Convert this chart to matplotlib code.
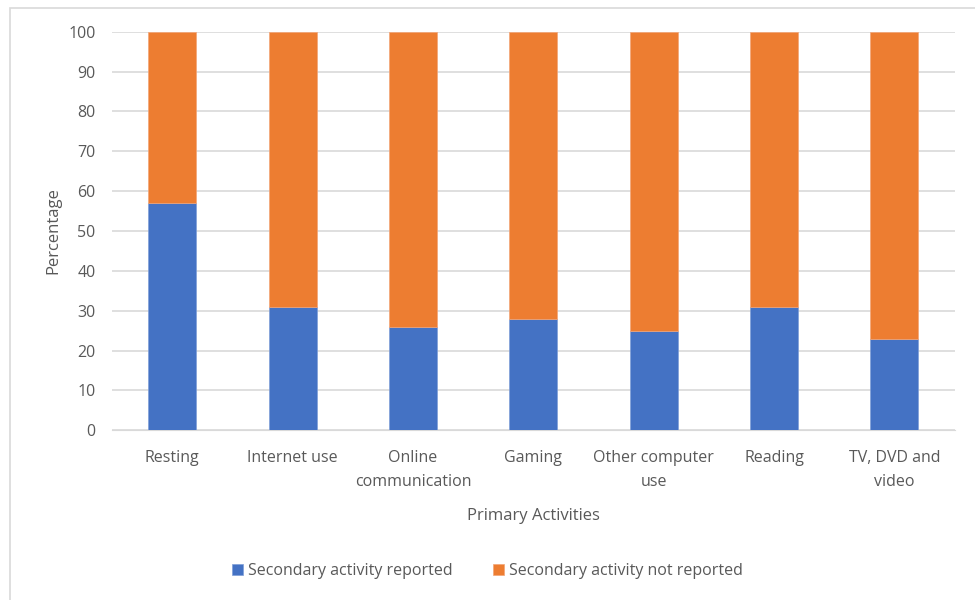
import matplotlib.pyplot as plt
from matplotlib.patches import Rectangle
import numpy as np

# Datos: porcentaje con actividad secundaria por actividad principal
actividades = ["Resting", "Internet use", "Online\ncommunication", "Gaming",
               "Other computer\nuse", "Reading", "TV, DVD and\nvideo"]
reportada = [57, 31, 26, 28, 25, 31, 23]
no_reportada = [100 - v for v in reportada]

azul = "#4472C4"
naranja = "#ED7D31"
gris = "#595959"

plt.rcParams['font.family'] = ['Open Sans', 'DejaVu Sans']

fig = plt.figure(figsize=(9.75, 6), dpi=100)
ax = fig.add_axes([0.115, 0.283, 0.864, 0.664])

# Marco gris claro alrededor del grafico
fig.patches.append(Rectangle((10 / 975, -0.01), 1.0, 1 - 8 / 600 + 0.01,
                             transform=fig.transFigure, fill=False,
                             edgecolor="#d9d9d9", lw=1.2))

x = np.arange(len(actividades))
ax.bar(x, reportada, width=0.4, color=azul, edgecolor="#7f9fd8", lw=0.5,
       label="Secondary activity reported", zorder=3)
ax.bar(x, no_reportada, width=0.4, bottom=reportada, color=naranja,
       edgecolor="#f3a577", lw=0.5, label="Secondary activity not reported", zorder=3)

ax.set_xlim(-0.5, len(actividades) - 0.5)
ax.set_ylim(0, 100)
ax.set_yticks(range(0, 101, 10))
ax.grid(axis="y", color="#d9d9d9", lw=1.2, zorder=0)
for s in ax.spines.values():
    s.set_visible(False)
ax.spines["bottom"].set_visible(True)
ax.spines["bottom"].set_color("#d9d9d9")
ax.tick_params(length=0, colors=gris, labelsize=11.5)
ax.tick_params(axis="y", pad=12)
ax.tick_params(axis="x", pad=14.5)
ax.set_xticks(x)
ax.set_xticklabels(actividades, linespacing=1.6)

ax.set_xlabel("Primary Activities", color=gris, fontsize=12, labelpad=13)
ax.set_ylabel("Percentage", color=gris, fontsize=12, labelpad=5)

fig.legend(loc="center", bbox_to_anchor=(0.5, 1 - 571 / 600), ncol=2,
           frameon=False, fontsize=11.5, labelcolor=gris, handlelength=0.7,
           handleheight=0.7, handletextpad=0.3, columnspacing=2.5)

fig.savefig("out.png", dpi=100)
